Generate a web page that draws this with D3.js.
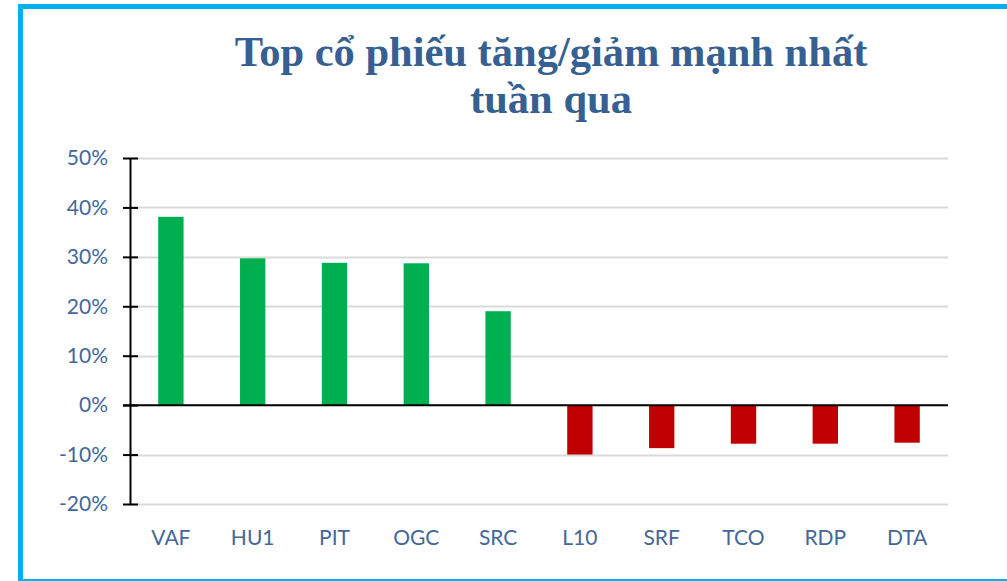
<!DOCTYPE html>
<html>
<head>
<meta charset="utf-8">
<script src="https://cdn.jsdelivr.net/npm/d3@7"></script>
<style>
  body { margin: 0; background: #fff; }
  svg { display: block; }
</style>
</head>
<body>
<div id="chart"></div>
<script>
// chart data
const tickers = ["VAF", "HU1", "PIT", "OGC", "SRC", "L10", "SRF", "TCO", "RDP", "DTA"];
const changes = [0.381, 0.297, 0.288, 0.287, 0.190, -0.100, -0.087, -0.078, -0.078, -0.076];
const yTicks = [-0.2, -0.1, 0, 0.1, 0.2, 0.3, 0.4, 0.5];
const titleLines = ["Top cổ phiếu tăng/giảm mạnh nhất", "tuần qua"];

const W = 1007, H = 581;
const margin = { top: 158, right: 59, bottom: 77, left: 130 };
const labelFont = "Lato, Carlito, 'Open Sans', sans-serif";
const labelColor = "#44679a";

const svg = d3.select("#chart")
  .append("svg")
  .attr("width", W)
  .attr("height", H);

// frame
svg.append("path")
  .attr("d", `M20.5,${H} V6.5 H${W}`)
  .attr("fill", "none")
  .attr("stroke", "#00b0f0")
  .attr("stroke-width", 5);
svg.append("line")
  .attr("x1", 18).attr("x2", W)
  .attr("y1", 580).attr("y2", 580)
  .attr("stroke", "#00b0f0")
  .attr("stroke-width", 2);

// title
svg.append("text")
  .attr("x", 551)
  .attr("y", 66)
  .attr("text-anchor", "middle")
  .attr("font-family", "'Liberation Serif', 'Times New Roman', serif")
  .attr("font-weight", "bold")
  .attr("font-size", 42.5)
  .attr("fill", "#366092")
  .selectAll("tspan")
  .data(titleLines)
  .enter()
  .append("tspan")
  .attr("x", 551)
  .attr("dy", (d, i) => (i === 0 ? 0 : 47))
  .text((d) => d);

const x = d3.scaleBand()
  .domain(tickers)
  .range([margin.left, W - margin.right])
  .paddingInner(0.69)
  .paddingOuter(0.345);

const y = d3.scaleLinear()
  .domain([-0.2, 0.5])
  .range([H - margin.bottom, margin.top]);

// gridlines
svg.append("g")
  .selectAll("line")
  .data(yTicks.filter((d) => d !== 0))
  .enter()
  .append("line")
  .attr("x1", margin.left)
  .attr("x2", W - margin.right)
  .attr("y1", (d) => Math.round(y(d)) + 0.5)
  .attr("y2", (d) => Math.round(y(d)) + 0.5)
  .attr("stroke", "#d9d9d9")
  .attr("stroke-width", 2);

// bars
svg.append("g")
  .selectAll("rect")
  .data(tickers)
  .enter()
  .append("rect")
  .attr("x", (d) => x(d))
  .attr("width", x.bandwidth())
  .attr("y", (d, i) => y(Math.max(0, changes[i])))
  .attr("height", (d, i) => Math.abs(y(changes[i]) - y(0)))
  .attr("fill", (d, i) => (changes[i] >= 0 ? "#00b050" : "#c00000"));

// y axis (plain hyphen for negatives, like the original)
const pct = (d) => `${Math.round(d * 100)}%`;
const yAxis = svg.append("g")
  .attr("transform", `translate(${margin.left},0)`)
  .call(
    d3.axisLeft(y)
      .tickValues(yTicks)
      .tickFormat(pct)
      .tickSizeInner(7)
      .tickSizeOuter(0)
      .tickPadding(15)
  );
yAxis.select(".domain").attr("stroke", "#000").attr("stroke-width", 2);
yAxis.selectAll(".tick line")
  .attr("x1", -7)
  .attr("x2", 8)
  .attr("stroke", "#000")
  .attr("stroke-width", 2);
yAxis.selectAll(".tick text")
  .attr("font-family", labelFont)
  .attr("font-size", 21)
  .attr("fill", labelColor);

// zero line
svg.append("line")
  .attr("x1", margin.left - 7)
  .attr("x2", W - margin.right)
  .attr("y1", y(0))
  .attr("y2", y(0))
  .attr("stroke", "#000")
  .attr("stroke-width", 2);

// category labels
svg.append("g")
  .selectAll("text")
  .data(tickers)
  .enter()
  .append("text")
  .attr("x", (d) => x(d) + x.bandwidth() / 2)
  .attr("y", 545)
  .attr("text-anchor", "middle")
  .attr("font-family", labelFont)
  .attr("font-size", 21)
  .attr("fill", labelColor)
  .text((d) => d);
</script>
</body>
</html>
